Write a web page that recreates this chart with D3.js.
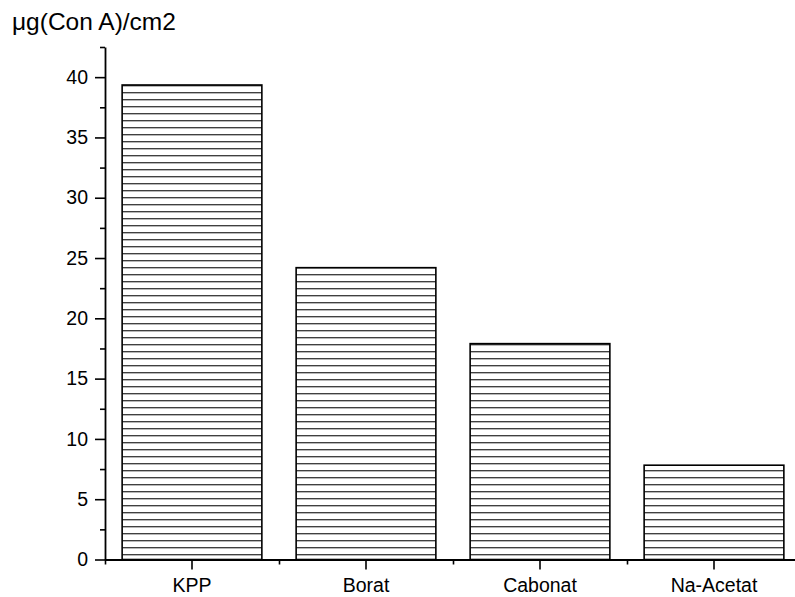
<!DOCTYPE html>
<html>
<head>
<meta charset="utf-8">
<script src="https://cdn.jsdelivr.net/npm/d3@7"></script>
<style>
  html, body { margin: 0; padding: 0; background: #fff; }
  svg { display: block; }
  text { font-family: Arial, "Liberation Sans", Helvetica, sans-serif; fill: #000; }
</style>
</head>
<body>
<svg id="chart" width="795" height="597"></svg>
<script>
const categories = ["KPP", "Borat", "Cabonat", "Na-Acetat"];
const values = [39.35, 24.2, 17.9, 7.82];
const yMajorTicks = [0, 5, 10, 15, 20, 25, 30, 35, 40];
const yMinorTicks = [2.5, 7.5, 12.5, 17.5, 22.5, 27.5, 32.5, 37.5, 42.5];
const yLabel = "\u03BCg(Con A)/cm2";

const svg = d3.select("#chart");
const W = 795, H = 597;
const mLeft = 105, mRight = 801, mTop = 47, mBottom = 559.5;

const x = d3.scaleBand().domain(categories).range([mLeft, mRight]).paddingInner(0).paddingOuter(0);
const y = d3.scaleLinear().domain([0, 42.5]).range([mBottom, mTop]);

// hatch pattern
const defs = svg.append("defs");
const pat = defs.append("pattern")
  .attr("id", "hatch")
  .attr("patternUnits", "userSpaceOnUse")
  .attr("width", 20).attr("height", 7)
  .attr("x", 0).attr("y", 0);
pat.append("rect").attr("width", 20).attr("height", 7).attr("fill", "#fff");
pat.append("rect").attr("x", 0).attr("y", 1.2).attr("width", 20).attr("height", 1.1).attr("fill", "#111");

// bars
const bw = x.bandwidth() * 0.803;
svg.append("g").selectAll("rect")
  .data(categories.map((c, i) => ({ c, v: values[i] })))
  .join("rect")
  .attr("x", d => x(d.c) + x.bandwidth() / 2 - bw / 2)
  .attr("y", d => y(d.v))
  .attr("width", bw)
  .attr("height", d => y(0) - y(d.v))
  .attr("fill", "url(#hatch)")
  .attr("stroke", "#000")
  .attr("stroke-width", 1.6);

// y axis
const yAxis = svg.append("g").attr("transform", `translate(${mLeft},0)`)
  .call(d3.axisLeft(y).tickValues(yMajorTicks).tickSize(10).tickSizeOuter(0).tickPadding(7).tickFormat(d3.format("d")));
yAxis.select(".domain").attr("stroke-width", 1.8);
yAxis.selectAll(".tick line").attr("stroke-width", 1.6);
yAxis.selectAll(".tick text").style("font-size", "19.5px");

const yMinor = svg.append("g").attr("transform", `translate(${mLeft},0)`)
  .call(d3.axisLeft(y).tickValues(yMinorTicks).tickSize(5).tickSizeOuter(0).tickFormat(""));
yMinor.select(".domain").remove();
yMinor.selectAll(".tick line").attr("stroke-width", 1.6);

// x axis
const xAxis = svg.append("g").attr("transform", `translate(0,${mBottom})`)
  .call(d3.axisBottom(x).tickSize(10).tickSizeOuter(0).tickPadding(9));
xAxis.select(".domain").attr("stroke-width", 1.8);
xAxis.selectAll(".tick line").attr("stroke-width", 1.6);
xAxis.selectAll(".tick text").style("font-size", "19.5px");

const xMinorScale = d3.scaleLinear().domain([0, categories.length]).range([mLeft, mRight]);
const xMinor = svg.append("g").attr("transform", `translate(0,${mBottom})`)
  .call(d3.axisBottom(xMinorScale).tickValues(d3.range(0, categories.length + 1)).tickSize(5).tickSizeOuter(0).tickFormat(""));
xMinor.select(".domain").remove();
xMinor.selectAll(".tick line").attr("stroke-width", 1.6);

// y label
svg.append("text")
  .attr("x", 12).attr("y", 30)
  .style("font-size", "24.5px")
  .text(yLabel);
</script>
</body>
</html>
